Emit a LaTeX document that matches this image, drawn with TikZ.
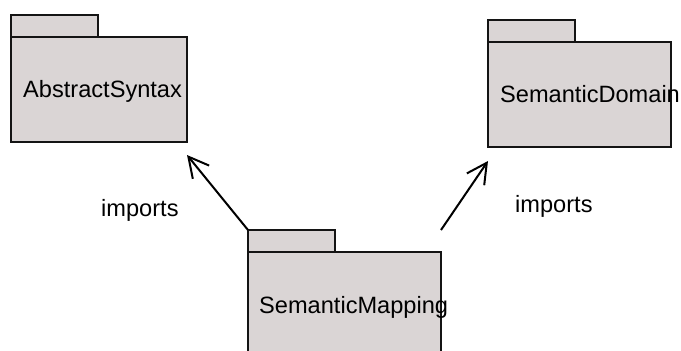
\documentclass[tikz,border=0pt]{standalone}
\usepackage{fontspec}
\setmainfont{Liberation Sans}
\usetikzlibrary{arrows.meta,positioning}
\definecolor{pkgfill}{RGB}{218,213,213}
\definecolor{pkgline}{RGB}{20,20,20}

\begin{document}
\begin{tikzpicture}[
    x=1pt, y=-1pt,
    >={Straight Barb[length=20pt,width=21pt]},
    pkgbody/.style={
        rectangle,
        draw=pkgline,
        fill=pkgfill,
        line width=2pt,
        inner sep=0pt,
        outer sep=0pt,
        minimum height=105pt,
        anchor=north west
    },
    pkgtab/.style={
        rectangle,
        draw=pkgline,
        fill=pkgfill,
        line width=2pt,
        inner sep=0pt,
        outer sep=0pt,
        minimum width=87pt,
        minimum height=22pt,
        anchor=south west
    },
    pkgname/.style={font=\fontsize{23.6}{28}\selectfont, inner sep=0pt, anchor=base west},
    dep/.style={->, line width=2pt}
]
\useasboundingbox (0,0) rectangle (681,351);
\clip (0,0) rectangle (681,351);

\node[pkgbody, minimum width=176pt] (syntax) at (11,37) {};
\node[pkgtab] (syntaxtab) at (syntax.north west) {};
\node[pkgname] (syntaxname) at (23,97) {AbstractSyntax};

\node[pkgbody, minimum width=183pt] (domain) at (488,42) {};
\node[pkgtab] (domaintab) at (domain.north west) {};
\node[pkgname] (domainname) at (500,102) {SemanticDomain};

\node[pkgbody, minimum width=193pt, minimum height=140pt] (mapping) at (248,252) {};
\node[pkgtab] (mappingtab) at (mapping.north west) {};
\node[pkgname] (mappingname) at (259,313) {SemanticMapping};

\draw[dep] (mappingtab.north west) -- ([yshift=-13pt]syntax.south east);
\draw[dep] (mappingtab.north west -| mapping.north east) -- ([yshift=-14pt]domain.south west);

\node[pkgname] (leftimports) at (101,216) {imports};
\node[pkgname] (rightimports) at (515,212) {imports};
\end{tikzpicture}
\end{document}
